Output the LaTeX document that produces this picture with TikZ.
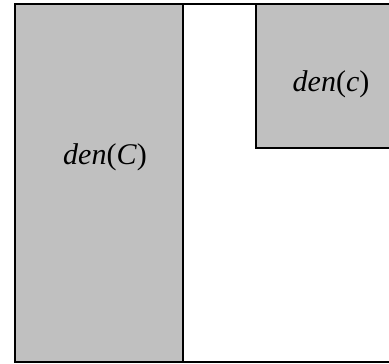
\documentclass[tikz,border=0pt]{standalone}
\usepackage{fontspec}
\setmainfont{Liberation Serif}
\definecolor{boxgray}{RGB}{192,192,192}
\tikzset{
  grayfill/.style={fill=boxgray},
  frame/.style={draw=black, line width=2pt},
  lbl/.style={font=\fontsize{30}{34}\selectfont, inner sep=0pt}
}
\begin{document}
\begin{tikzpicture}[x=1pt,y=-1pt]
\useasboundingbox (0,0) rectangle (389,364);
\clip (0,0) rectangle (389,364);
% gray regions
\fill[grayfill] (15,4) rectangle (183,361.5);
\fill[grayfill] (255.5,4) rectangle (400,147.5);
% outer frame
\draw[frame] (400,4) -- (15,4) -- (15,361.5) -- (400,361.5);
% left box right edge
\draw[frame] (183,4) -- (183,361.5);
% small box edges
\draw[frame] (255.5,4) -- (255.5,147.5) -- (400,147.5);
% labels
\node[lbl] (bigC) at (105,157) {\textit{den}(\textit{C})};
\node[lbl] (smallc) at (331,84) {\textit{den}(\textit{c})};
\end{tikzpicture}
\end{document}
